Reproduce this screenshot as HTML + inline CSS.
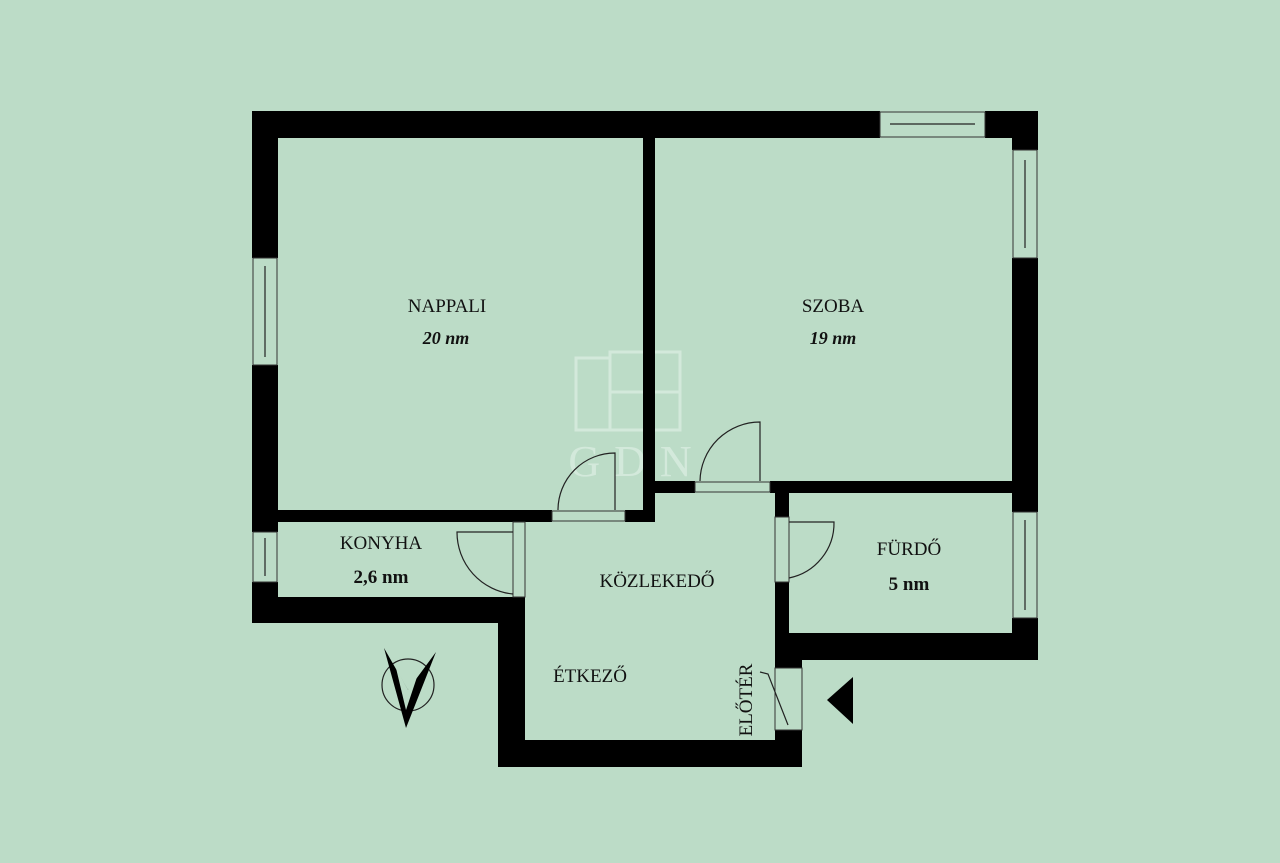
<!DOCTYPE html>
<html><head><style>
html,body{margin:0;padding:0;background:#bcdcc7;}
svg{display:block}
text{font-family:"Liberation Serif",serif;fill:#111;}
</style></head><body>
<svg width="1280" height="863" viewBox="0 0 1280 863">
<rect width="1280" height="863" fill="#bcdcc7"/>
<!-- watermark -->
<g fill="none" stroke="#d6ebde" stroke-width="3" opacity="0.9">
<rect x="576" y="358" width="34" height="72"/><rect x="610" y="352" width="70" height="78"/>
<line x1="645" y1="352" x2="645" y2="430"/><line x1="610" y1="392" x2="680" y2="392"/>
</g>
<text x="637" y="476" font-size="44" fill="#d3e9db" style="fill:#d3e9db" text-anchor="middle" letter-spacing="14">GDN</text>
<g fill="#000">
<!-- top wall -->
<rect x="252" y="111" width="628" height="27"/><rect x="985" y="111" width="53" height="27"/>
<!-- left wall -->
<rect x="252" y="111" width="26" height="147"/><rect x="252" y="365" width="26" height="167"/><rect x="252" y="582" width="26" height="41"/>
<!-- right wall -->
<rect x="1012" y="111" width="26" height="39"/><rect x="1012" y="258" width="26" height="254"/><rect x="1012" y="618" width="26" height="42"/>
<!-- divider -->
<rect x="643" y="138" width="12" height="384"/>
<!-- nappali bottom -->
<rect x="278" y="510" width="274" height="12"/><rect x="625" y="510" width="30" height="12"/>
<!-- konyha bottom -->
<rect x="252" y="597" width="273" height="26"/>
<!-- konyha/corridor wall -->
<rect x="513" y="522" width="12" height="8"/><rect x="498" y="597" width="27" height="170"/>
<!-- bottom -->
<rect x="498" y="740" width="304" height="27"/>
<!-- szoba bottom -->
<rect x="655" y="481" width="40" height="12"/><rect x="770" y="481" width="242" height="12"/>
<!-- furdo left -->
<rect x="775" y="481" width="14" height="36"/><rect x="775" y="582" width="14" height="78"/>
<rect x="775" y="640" width="27" height="28"/><rect x="775" y="730" width="27" height="37"/>
<!-- furdo bottom -->
<rect x="775" y="633" width="263" height="27"/>
<!-- entrance triangle -->
<polygon points="853,677 853,724 827,700"/>
</g>
<!-- windows -->
<g fill="#bcdcc7" stroke="#333" stroke-width="1">
<rect x="880" y="112" width="105" height="25"/>
<rect x="1013" y="150" width="24" height="108"/>
<rect x="1013" y="512" width="24" height="106"/>
<rect x="253" y="258" width="24" height="107"/>
<rect x="253" y="532" width="24" height="50"/>
<rect x="513" y="522" width="12" height="75"/>
<rect x="775" y="517" width="14" height="65"/>
<rect x="775" y="668" width="27" height="62"/>
<rect x="552" y="511" width="73" height="10"/>
<rect x="695" y="482" width="75" height="10"/>
</g>
<g fill="none" stroke="#222" stroke-width="1.2">
<line x1="890" y1="124" x2="975" y2="124"/><line x1="1025" y1="160" x2="1025" y2="248"/>
<line x1="1025" y1="520" x2="1025" y2="610"/><line x1="265" y1="266" x2="265" y2="357"/><line x1="265" y1="538" x2="265" y2="576"/>
<!-- doors -->
<path d="M615 510 V453 A57 57 0 0 0 558 510"/>
<path d="M760 481 V422 A60 60 0 0 0 700 481"/>
<path d="M513 532 H457 A62 62 0 0 0 513 594"/>
<path d="M789 522 H834 A56 56 0 0 1 789 578"/>
<path d="M760 672 L768 674 L788 725"/>
<!-- compass -->
<circle cx="408" cy="685" r="26"/>
</g>
<polygon points="384,648 408,690 436,652 406,728" fill="#000"/>
<polygon points="396,668 408,690 420,668 406,710" fill="#bcdcc7"/>
<g font-size="19" text-anchor="middle">
<text x="447" y="312">NAPPALI</text>
<text x="446" y="344" font-style="italic" font-weight="bold" font-size="18">20 nm</text>
<text x="833" y="312">SZOBA</text>
<text x="833" y="344" font-style="italic" font-weight="bold" font-size="18">19 nm</text>
<text x="381" y="549">KONYHA</text>
<text x="381" y="583" font-weight="bold">2,6 nm</text>
<text x="657" y="587">KÖZLEKEDŐ</text>
<text x="909" y="555">FÜRDŐ</text>
<text x="909" y="590" font-weight="bold">5 nm</text>
<text x="590" y="682">ÉTKEZŐ</text>
<text transform="translate(752,700) rotate(-90)" font-size="19">ELŐTÉR</text>
</g>
</svg>
</body></html>
